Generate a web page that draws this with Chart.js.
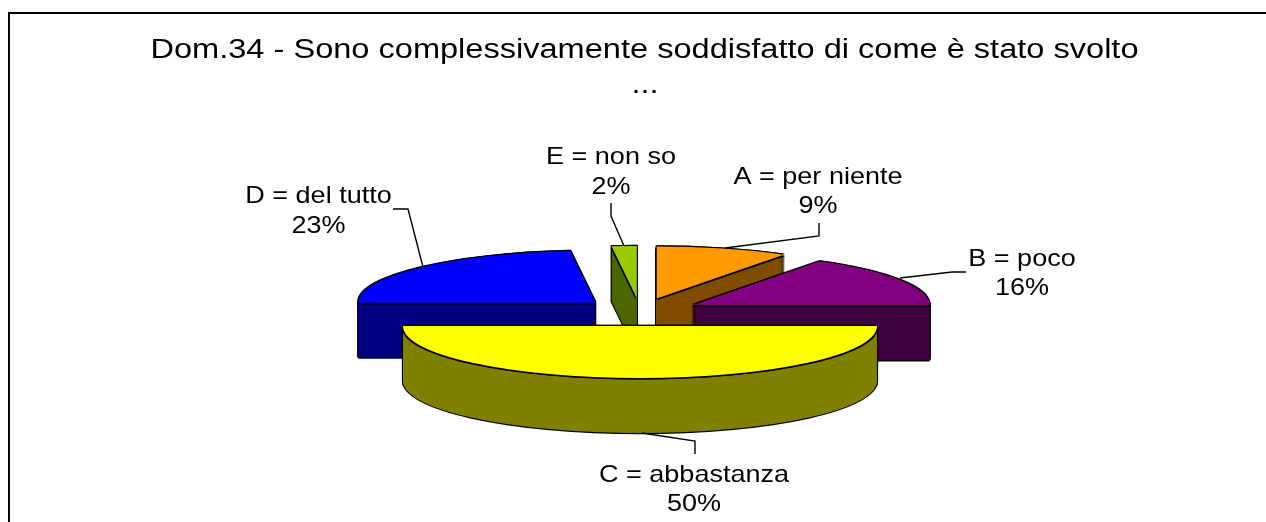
<!DOCTYPE html>
<html>
<head>
<meta charset="utf-8">
<title>Dom.34</title>
<script src="https://cdn.jsdelivr.net/npm/chart.js@4"></script>
<style>
  html, body { margin: 0; padding: 0; background: #fff; overflow: hidden; }
  canvas { display: block; }
</style>
</head>
<body>
<canvas id="chart" width="1266" height="522"></canvas>
<script>
const titleLines = ["Dom.34 - Sono complessivamente soddisfatto di come è stato svolto", "..."];
const categories = ["A = per niente", "B = poco", "C = abbastanza", "D = del tutto", "E = non so"];
// labels show these rounded, D and E
const percents = [9, 16, 50, 23.3, 1.7];

const topColors = ["#FF9900", "#800080", "#FFFF00", "#0000FF", "#99CC00"];
const wallColors = ["#804D00", "#400040", "#808000", "#000080", "#4D6600"];

// back to front, the big front slice goes last
const drawOrder = [3, 4, 0, 1, 2];

const FONT = '"Liberation Sans", Arial, sans-serif';
const center = { x: 640, y: 312 };
const radius = 237;
const squash = 52 / 237;
const depth = 55;
const explodeX = 60;
const explodeY = 14;
// the reference text is wider than its height would give
const textStretch = 1.155;

// label centre x, first and second baseline, then the leader line
const labelSpots = [
  { x: 818, y1: 183.5, y2: 212.5, line: [[819, 223], [819, 236], [725, 248]] },
  { x: 1022, y1: 265.5, y2: 294.5, line: [[966, 272], [952, 272], [900, 278]] },
  { x: 694, y1: 481.5, y2: 510.5, line: [[695, 454], [695, 441], [642, 433]] },
  { x: 318.5, y1: 202.5, y2: 232.5, line: [[393, 209], [408, 209], [423, 267]] },
  { x: 611, y1: 163.5, y2: 193.5, line: [[611, 203], [611, 216], [624, 246]] }
];

function paintArc(ctx, arc, color, dx, dy) {
  const mid = (arc.startAngle + arc.endAngle) / 2;
  const saved = arc.options;
  arc.options = Object.assign({}, saved, { backgroundColor: color, borderWidth: 0, offset: 0, spacing: 0 });
  ctx.save();
  ctx.translate(center.x + Math.cos(mid) * explodeX + dx, center.y + Math.sin(mid) * explodeY + dy);
  ctx.scale(1, squash);
  ctx.translate(-arc.x, -arc.y);
  arc.draw(ctx);
  ctx.restore();
  arc.options = saved;
}

function wideText(ctx, text, x, y, size) {
  ctx.save();
  ctx.font = size + "px " + FONT;
  ctx.textAlign = "center";
  ctx.textBaseline = "alphabetic";
  ctx.fillStyle = "#000";
  ctx.translate(x, y);
  ctx.scale(textStretch, 1);
  ctx.fillText(text, 0, 0);
  ctx.restore();
}

const pie3d = {
  id: "pie3d",
  beforeDraw(chart) {
    const ctx = chart.ctx;
    ctx.save();
    ctx.fillStyle = "#000";
    ctx.fillRect(8, 12, 1258, 2);
    ctx.fillRect(8, 12, 2, 510);
    ctx.restore();
  },
  beforeDatasetDraw(chart, args) {
    const ctx = chart.ctx;
    const arcs = args.meta.data;
    drawOrder.forEach(i => {
      const arc = arcs[i];
      // black halo first, so the body keeps its outline even though the arc is squashed
      for (let d = 0; d <= depth; d++) {
        paintArc(ctx, arc, "#000", -1.2, d);
        paintArc(ctx, arc, "#000", 1.2, d);
      }
      paintArc(ctx, arc, "#000", -1, -1.2);
      paintArc(ctx, arc, "#000", 1, -1.2);
      paintArc(ctx, arc, "#000", 0, depth + 1.2);
      for (let d = 1; d <= depth; d++) {
        paintArc(ctx, arc, wallColors[i], 0, d);
      }
      paintArc(ctx, arc, "#000", -1.2, 1.5);
      paintArc(ctx, arc, "#000", 1.2, 1.5);
      paintArc(ctx, arc, topColors[i], 0, 0);
    });
    return false;
  },
  afterDraw(chart) {
    const ctx = chart.ctx;
    wideText(ctx, titleLines[0], 644.5, 58, 28.2);
    wideText(ctx, titleLines[1], 645, 93, 28.2);
    ctx.save();
    ctx.strokeStyle = "#000";
    ctx.lineWidth = 1.4;
    labelSpots.forEach((spot, i) => {
      ctx.beginPath();
      spot.line.forEach((p, n) => n ? ctx.lineTo(p[0], p[1]) : ctx.moveTo(p[0], p[1]));
      ctx.stroke();
      wideText(ctx, categories[i], spot.x, spot.y1, 23.4);
      wideText(ctx, Math.round(percents[i]) + "%", spot.x, spot.y2, 23.4);
    });
    ctx.restore();
  }
};

new Chart(document.getElementById("chart"), {
  type: "pie",
  data: {
    labels: categories,
    datasets: [{
      data: percents,
      backgroundColor: topColors,
      borderWidth: 0,
      radius: radius
    }]
  },
  options: {
    responsive: false,
    animation: false,
    events: [],
    plugins: {
      legend: { display: false },
      tooltip: { enabled: false },
      title: { display: false }
    }
  },
  plugins: [pie3d]
});
</script>
</body>
</html>
